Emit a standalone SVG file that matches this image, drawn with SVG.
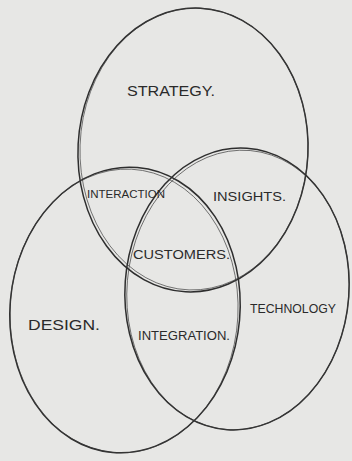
<svg xmlns="http://www.w3.org/2000/svg" width="352" height="461" viewBox="0 0 352 461">
<style>
.bg{fill:#e7e7e5}
.c{fill:none;stroke:#2e2e2e;stroke-width:1.5}
.c2{fill:none;stroke:#3a3a3a;stroke-width:0.9;opacity:0.75}
.t{font-family:"Liberation Sans",Arial,sans-serif;fill:#2a2a2a;font-weight:normal}
</style>
<rect class="bg" x="0" y="0" width="352" height="461"/>
<g id="strategy">
<ellipse class="c" cx="193" cy="150" rx="115" ry="142" transform="rotate(3 193 150)"/>
<ellipse class="c2" cx="194" cy="149" rx="114" ry="141" transform="rotate(2 194 149)"/>
<text class="t" x="127" y="96" font-size="14" textLength="88" lengthAdjust="spacingAndGlyphs">STRATEGY.</text>
</g>
<g id="design">
<ellipse class="c" cx="125" cy="310" rx="115" ry="143" transform="rotate(5 125 310)"/>
<ellipse class="c2" cx="124" cy="311" rx="114" ry="142" transform="rotate(3 124 311)"/>
<text class="t" x="28" y="330" font-size="15" textLength="72" lengthAdjust="spacingAndGlyphs">DESIGN.</text>
</g>
<g id="technology">
<ellipse class="c" cx="237" cy="289" rx="112" ry="141" transform="rotate(4 237 289)"/>
<ellipse class="c2" cx="238" cy="290" rx="111" ry="140" transform="rotate(5 238 290)"/>
<text class="t" x="250" y="313" font-size="12" textLength="86" lengthAdjust="spacingAndGlyphs">TECHNOLOGY</text>
</g>
<g id="interaction">
<text class="t" x="87" y="198" font-size="10.5" textLength="78" lengthAdjust="spacingAndGlyphs">INTERACTION</text>
</g>
<g id="insights">
<text class="t" x="213" y="201" font-size="12" textLength="73" lengthAdjust="spacingAndGlyphs">INSIGHTS.</text>
</g>
<g id="customers">
<text class="t" x="133" y="259" font-size="12" textLength="97" lengthAdjust="spacingAndGlyphs">CUSTOMERS.</text>
</g>
<g id="integration">
<text class="t" x="138" y="340" font-size="12.5" textLength="92" lengthAdjust="spacingAndGlyphs">INTEGRATION.</text>
</g>
</svg>
